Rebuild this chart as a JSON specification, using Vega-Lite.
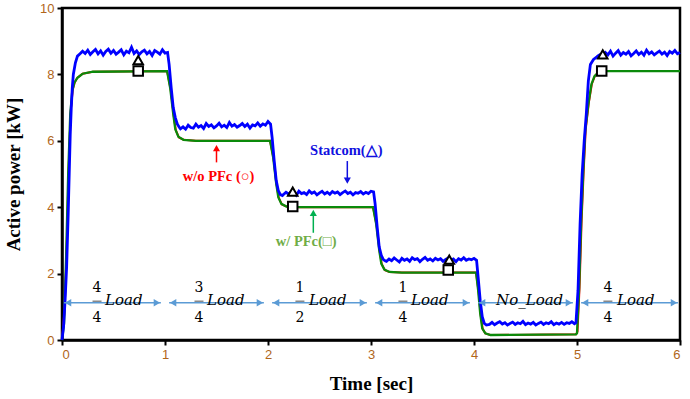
{
  "$schema": "https://vega.github.io/schema/vega-lite/v6.json",
  "width": 618,
  "height": 332,
  "autosize": "none",
  "padding": {"left": 62, "top": 8, "right": 10, "bottom": 59},
  "background": "white",
  "config": {
    "view": {"stroke": "black", "strokeWidth": 2.5},
    "axis": {
      "domainColor": "black", "domainWidth": 2.5, "tickColor": "black", "tickWidth": 2, "tickSize": 5,
      "labelColor": "#b0661a", "labelFont": "Liberation Sans", "labelFontSize": 13, "labelPadding": 3,
      "titleFont": "Liberation Serif", "titleFontSize": 19, "titleFontWeight": "bold", "titleColor": "black",
      "grid": false
    }
  },
  "datasets": {
    "lines": [
      {"s":"g","t":0,"v":0},{"s":"g","t":0.02,"v":0.5},{"s":"g","t":0.04,"v":2.5},{"s":"g","t":0.06,"v":5.0},{"s":"g","t":0.08,"v":6.8},{"s":"g","t":0.1,"v":7.5},{"s":"g","t":0.12,"v":7.75},{"s":"g","t":0.15,"v":7.9},{"s":"g","t":0.2,"v":8.02},{"s":"g","t":0.3,"v":8.08},{"s":"g","t":1.02,"v":8.1},{"s":"g","t":1.05,"v":7.6},{"s":"g","t":1.08,"v":6.8},{"s":"g","t":1.1,"v":6.35},{"s":"g","t":1.13,"v":6.12},{"s":"g","t":1.18,"v":6.03},{"s":"g","t":1.3,"v":6.0},{"s":"g","t":2.02,"v":6.0},{"s":"g","t":2.05,"v":5.5},{"s":"g","t":2.08,"v":4.7},{"s":"g","t":2.1,"v":4.3},{"s":"g","t":2.13,"v":4.1},{"s":"g","t":2.18,"v":4.02},{"s":"g","t":2.3,"v":4.0},{"s":"g","t":3.02,"v":4.0},{"s":"g","t":3.05,"v":3.5},{"s":"g","t":3.08,"v":2.7},{"s":"g","t":3.1,"v":2.3},{"s":"g","t":3.13,"v":2.12},{"s":"g","t":3.18,"v":2.05},{"s":"g","t":3.3,"v":2.03},{"s":"g","t":4.02,"v":2.03},{"s":"g","t":4.04,"v":1.5},{"s":"g","t":4.06,"v":0.8},{"s":"g","t":4.08,"v":0.35},{"s":"g","t":4.11,"v":0.2},{"s":"g","t":4.16,"v":0.15},{"s":"g","t":4.99,"v":0.17},{"s":"g","t":5.0,"v":0.2},{"s":"g","t":5.02,"v":1.5},{"s":"g","t":5.04,"v":3.5},{"s":"g","t":5.06,"v":5.0},{"s":"g","t":5.08,"v":6.3},{"s":"g","t":5.11,"v":7.1},{"s":"g","t":5.14,"v":7.7},{"s":"g","t":5.17,"v":7.95},{"s":"g","t":5.22,"v":8.1},{"s":"g","t":6.0,"v":8.1},
      {"s":"r","t":0,"v":0},{"s":"r","t":0.025,"v":0.9},{"s":"r","t":0.045,"v":2.7},{"s":"r","t":0.065,"v":5.2},{"s":"r","t":0.085,"v":6.9},{"s":"r","t":0.105,"v":7.55},{"s":"r","t":0.125,"v":7.77},{"s":"r","t":0.15,"v":7.9},{"s":"r","t":0.2,"v":8.02},{"s":"r","t":0.3,"v":8.08},{"s":"r","t":1.02,"v":8.1},{"s":"r","t":1.055,"v":7.55},{"s":"r","t":1.085,"v":6.75},{"s":"r","t":1.105,"v":6.32},{"s":"r","t":1.135,"v":6.1},{"s":"r","t":1.18,"v":6.03},{"s":"r","t":1.3,"v":6.0},{"s":"r","t":2.02,"v":6.0},{"s":"r","t":2.055,"v":5.45},{"s":"r","t":2.085,"v":4.65},{"s":"r","t":2.105,"v":4.28},{"s":"r","t":2.135,"v":4.08},{"s":"r","t":2.18,"v":4.02},{"s":"r","t":2.3,"v":4.0},{"s":"r","t":3.02,"v":4.0},{"s":"r","t":3.055,"v":3.45},{"s":"r","t":3.085,"v":2.65},{"s":"r","t":3.105,"v":2.28},{"s":"r","t":3.135,"v":2.1},{"s":"r","t":3.18,"v":2.05},{"s":"r","t":3.3,"v":2.03},{"s":"r","t":4.02,"v":2.03},{"s":"r","t":4.045,"v":1.45},{"s":"r","t":4.065,"v":0.75},{"s":"r","t":4.085,"v":0.33},{"s":"r","t":4.11,"v":0.2},{"s":"r","t":4.16,"v":0.15},{"s":"r","t":4.99,"v":0.17},{"s":"r","t":5.005,"v":0.25},{"s":"r","t":5.025,"v":1.6},{"s":"r","t":5.045,"v":3.6},{"s":"r","t":5.065,"v":5.1},{"s":"r","t":5.085,"v":6.35},{"s":"r","t":5.115,"v":7.15},{"s":"r","t":5.145,"v":7.72},{"s":"r","t":5.175,"v":7.96},{"s":"r","t":5.22,"v":8.1},{"s":"r","t":6.0,"v":8.1},
      {"s":"b","t":0,"v":0},{"s":"b","t":0.015,"v":0.4},{"s":"b","t":0.03,"v":1.2},{"s":"b","t":0.045,"v":2.2},{"s":"b","t":0.06,"v":3.8},{"s":"b","t":0.07,"v":5.0},{"s":"b","t":0.08,"v":6.2},{"s":"b","t":0.09,"v":7.0},{"s":"b","t":0.1,"v":7.6},{"s":"b","t":0.11,"v":8.0},{"s":"b","t":0.13,"v":8.35},{"s":"b","t":0.15,"v":8.55},{"s":"b","t":0.175,"v":8.62},
      {"s":"b","t":0.2,"v":8.70},{"s":"b","t":0.225,"v":8.63},{"s":"b","t":0.25,"v":8.73},{"s":"b","t":0.275,"v":8.60},{"s":"b","t":0.3,"v":8.68},{"s":"b","t":0.325,"v":8.75},{"s":"b","t":0.35,"v":8.62},{"s":"b","t":0.375,"v":8.71},{"s":"b","t":0.4,"v":8.58},{"s":"b","t":0.425,"v":8.69},{"s":"b","t":0.45,"v":8.76},{"s":"b","t":0.475,"v":8.64},{"s":"b","t":0.5,"v":8.72},{"s":"b","t":0.525,"v":8.61},{"s":"b","t":0.55,"v":8.67},{"s":"b","t":0.575,"v":8.74},{"s":"b","t":0.6,"v":8.59},{"s":"b","t":0.625,"v":8.70},{"s":"b","t":0.65,"v":8.65},{"s":"b","t":0.675,"v":8.82},{"s":"b","t":0.7,"v":8.63},{"s":"b","t":0.725,"v":8.71},{"s":"b","t":0.75,"v":8.60},{"s":"b","t":0.775,"v":8.68},{"s":"b","t":0.8,"v":8.73},{"s":"b","t":0.825,"v":8.62},{"s":"b","t":0.85,"v":8.69},{"s":"b","t":0.875,"v":8.57},{"s":"b","t":0.9,"v":8.72},{"s":"b","t":0.925,"v":8.67},{"s":"b","t":0.95,"v":8.61},{"s":"b","t":0.975,"v":8.74},{"s":"b","t":1.0,"v":8.64},{"s":"b","t":1.025,"v":8.66},
      {"s":"b","t":1.04,"v":8.3},{"s":"b","t":1.06,"v":7.6},{"s":"b","t":1.08,"v":7.0},{"s":"b","t":1.1,"v":6.7},{"s":"b","t":1.12,"v":6.5},{"s":"b","t":1.14,"v":6.4},
      {"s":"b","t":1.15,"v":6.36},{"s":"b","t":1.175,"v":6.42},{"s":"b","t":1.2,"v":6.35},{"s":"b","t":1.225,"v":6.47},{"s":"b","t":1.25,"v":6.40},{"s":"b","t":1.275,"v":6.38},{"s":"b","t":1.3,"v":6.50},{"s":"b","t":1.325,"v":6.41},{"s":"b","t":1.35,"v":6.46},{"s":"b","t":1.375,"v":6.37},{"s":"b","t":1.4,"v":6.52},{"s":"b","t":1.425,"v":6.43},{"s":"b","t":1.45,"v":6.48},{"s":"b","t":1.475,"v":6.39},{"s":"b","t":1.5,"v":6.45},{"s":"b","t":1.525,"v":6.53},{"s":"b","t":1.55,"v":6.42},{"s":"b","t":1.575,"v":6.47},{"s":"b","t":1.6,"v":6.40},{"s":"b","t":1.625,"v":6.55},{"s":"b","t":1.65,"v":6.44},{"s":"b","t":1.675,"v":6.49},{"s":"b","t":1.7,"v":6.41},{"s":"b","t":1.725,"v":6.46},{"s":"b","t":1.75,"v":6.52},{"s":"b","t":1.775,"v":6.43},{"s":"b","t":1.8,"v":6.50},{"s":"b","t":1.825,"v":6.38},{"s":"b","t":1.85,"v":6.48},{"s":"b","t":1.875,"v":6.45},{"s":"b","t":1.9,"v":6.54},{"s":"b","t":1.925,"v":6.44},{"s":"b","t":1.95,"v":6.51},{"s":"b","t":1.975,"v":6.47},{"s":"b","t":2.0,"v":6.58},{"s":"b","t":2.025,"v":6.50},
      {"s":"b","t":2.04,"v":6.1},{"s":"b","t":2.06,"v":5.4},{"s":"b","t":2.08,"v":4.8},{"s":"b","t":2.1,"v":4.5},{"s":"b","t":2.12,"v":4.38},{"s":"b","t":2.14,"v":4.35},
      {"s":"b","t":2.15,"v":4.38},{"s":"b","t":2.175,"v":4.45},{"s":"b","t":2.2,"v":4.40},{"s":"b","t":2.225,"v":4.47},{"s":"b","t":2.25,"v":4.43},{"s":"b","t":2.275,"v":4.36},{"s":"b","t":2.3,"v":4.48},{"s":"b","t":2.325,"v":4.41},{"s":"b","t":2.35,"v":4.44},{"s":"b","t":2.375,"v":4.38},{"s":"b","t":2.4,"v":4.49},{"s":"b","t":2.425,"v":4.42},{"s":"b","t":2.45,"v":4.46},{"s":"b","t":2.475,"v":4.37},{"s":"b","t":2.5,"v":4.43},{"s":"b","t":2.525,"v":4.48},{"s":"b","t":2.55,"v":4.40},{"s":"b","t":2.575,"v":4.45},{"s":"b","t":2.6,"v":4.39},{"s":"b","t":2.625,"v":4.47},{"s":"b","t":2.65,"v":4.42},{"s":"b","t":2.675,"v":4.46},{"s":"b","t":2.7,"v":4.38},{"s":"b","t":2.725,"v":4.44},{"s":"b","t":2.75,"v":4.49},{"s":"b","t":2.775,"v":4.41},{"s":"b","t":2.8,"v":4.45},{"s":"b","t":2.825,"v":4.37},{"s":"b","t":2.85,"v":4.44},{"s":"b","t":2.875,"v":4.42},{"s":"b","t":2.9,"v":4.47},{"s":"b","t":2.925,"v":4.40},{"s":"b","t":2.95,"v":4.45},{"s":"b","t":2.975,"v":4.41},{"s":"b","t":3.0,"v":4.48},{"s":"b","t":3.025,"v":4.46},
      {"s":"b","t":3.04,"v":4.1},{"s":"b","t":3.06,"v":3.4},{"s":"b","t":3.08,"v":2.8},{"s":"b","t":3.1,"v":2.55},{"s":"b","t":3.12,"v":2.42},{"s":"b","t":3.14,"v":2.38},
      {"s":"b","t":3.15,"v":2.37},{"s":"b","t":3.175,"v":2.44},{"s":"b","t":3.2,"v":2.39},{"s":"b","t":3.225,"v":2.47},{"s":"b","t":3.25,"v":2.41},{"s":"b","t":3.275,"v":2.35},{"s":"b","t":3.3,"v":2.46},{"s":"b","t":3.325,"v":2.40},{"s":"b","t":3.35,"v":2.44},{"s":"b","t":3.375,"v":2.37},{"s":"b","t":3.4,"v":2.48},{"s":"b","t":3.425,"v":2.42},{"s":"b","t":3.45,"v":2.45},{"s":"b","t":3.475,"v":2.36},{"s":"b","t":3.5,"v":2.43},{"s":"b","t":3.525,"v":2.49},{"s":"b","t":3.55,"v":2.40},{"s":"b","t":3.575,"v":2.44},{"s":"b","t":3.6,"v":2.38},{"s":"b","t":3.625,"v":2.46},{"s":"b","t":3.65,"v":2.41},{"s":"b","t":3.675,"v":2.45},{"s":"b","t":3.7,"v":2.37},{"s":"b","t":3.725,"v":2.43},{"s":"b","t":3.75,"v":2.47},{"s":"b","t":3.775,"v":2.40},{"s":"b","t":3.8,"v":2.44},{"s":"b","t":3.825,"v":2.36},{"s":"b","t":3.85,"v":2.45},{"s":"b","t":3.875,"v":2.41},{"s":"b","t":3.9,"v":2.48},{"s":"b","t":3.925,"v":2.40},{"s":"b","t":3.95,"v":2.44},{"s":"b","t":3.975,"v":2.42},{"s":"b","t":4.0,"v":2.46},{"s":"b","t":4.025,"v":2.40},
      {"s":"b","t":4.04,"v":1.9},{"s":"b","t":4.06,"v":1.2},{"s":"b","t":4.08,"v":0.7},{"s":"b","t":4.1,"v":0.5},{"s":"b","t":4.12,"v":0.45},
      {"s":"b","t":4.15,"v":0.47},{"s":"b","t":4.175,"v":0.53},{"s":"b","t":4.2,"v":0.46},{"s":"b","t":4.225,"v":0.51},{"s":"b","t":4.25,"v":0.55},{"s":"b","t":4.275,"v":0.48},{"s":"b","t":4.3,"v":0.52},{"s":"b","t":4.325,"v":0.45},{"s":"b","t":4.35,"v":0.50},{"s":"b","t":4.375,"v":0.54},{"s":"b","t":4.4,"v":0.47},{"s":"b","t":4.425,"v":0.52},{"s":"b","t":4.45,"v":0.49},{"s":"b","t":4.475,"v":0.56},{"s":"b","t":4.5,"v":0.46},{"s":"b","t":4.525,"v":0.51},{"s":"b","t":4.55,"v":0.48},{"s":"b","t":4.575,"v":0.53},{"s":"b","t":4.6,"v":0.45},{"s":"b","t":4.625,"v":0.50},{"s":"b","t":4.65,"v":0.54},{"s":"b","t":4.675,"v":0.47},{"s":"b","t":4.7,"v":0.52},{"s":"b","t":4.725,"v":0.49},{"s":"b","t":4.75,"v":0.55},{"s":"b","t":4.775,"v":0.46},{"s":"b","t":4.8,"v":0.51},{"s":"b","t":4.825,"v":0.48},{"s":"b","t":4.85,"v":0.53},{"s":"b","t":4.875,"v":0.47},{"s":"b","t":4.9,"v":0.52},{"s":"b","t":4.925,"v":0.50},{"s":"b","t":4.95,"v":0.55},{"s":"b","t":4.975,"v":0.49},{"s":"b","t":4.99,"v":0.52},
      {"s":"b","t":5.01,"v":1.5},{"s":"b","t":5.03,"v":3.5},{"s":"b","t":5.05,"v":5.0},{"s":"b","t":5.07,"v":6.0},{"s":"b","t":5.09,"v":6.8},{"s":"b","t":5.11,"v":7.8},{"s":"b","t":5.13,"v":8.3},{"s":"b","t":5.16,"v":8.45},{"s":"b","t":5.19,"v":8.52},
      {"s":"b","t":5.2,"v":8.55},{"s":"b","t":5.225,"v":8.60},{"s":"b","t":5.25,"v":8.57},{"s":"b","t":5.275,"v":8.66},{"s":"b","t":5.3,"v":8.59},{"s":"b","t":5.325,"v":8.70},{"s":"b","t":5.35,"v":8.55},{"s":"b","t":5.375,"v":8.64},{"s":"b","t":5.4,"v":8.72},{"s":"b","t":5.425,"v":8.58},{"s":"b","t":5.45,"v":8.66},{"s":"b","t":5.475,"v":8.61},{"s":"b","t":5.5,"v":8.69},{"s":"b","t":5.525,"v":8.56},{"s":"b","t":5.55,"v":8.63},{"s":"b","t":5.575,"v":8.71},{"s":"b","t":5.6,"v":8.60},{"s":"b","t":5.625,"v":8.67},{"s":"b","t":5.65,"v":8.58},{"s":"b","t":5.675,"v":8.73},{"s":"b","t":5.7,"v":8.62},{"s":"b","t":5.725,"v":8.68},{"s":"b","t":5.75,"v":8.59},{"s":"b","t":5.775,"v":8.65},{"s":"b","t":5.8,"v":8.70},{"s":"b","t":5.825,"v":8.61},{"s":"b","t":5.85,"v":8.67},{"s":"b","t":5.875,"v":8.57},{"s":"b","t":5.9,"v":8.69},{"s":"b","t":5.925,"v":8.64},{"s":"b","t":5.95,"v":8.72},{"s":"b","t":5.975,"v":8.62},{"s":"b","t":6.0,"v":8.66}
    ],
    "markers": [
      {"t":0.74,"v":8.43,"m":"tri"},{"t":0.74,"v":8.1,"m":"sq"},
      {"t":2.24,"v":4.47,"m":"tri"},{"t":2.24,"v":4.02,"m":"sq"},
      {"t":3.76,"v":2.42,"m":"tri"},{"t":3.75,"v":2.11,"m":"sq"},
      {"t":5.25,"v":8.6,"m":"tri"},{"t":5.24,"v":8.1,"m":"sq"}
    ],
    "loads": [
      {"a":0.02,"b":0.96},{"a":1.04,"b":1.96},{"a":2.04,"b":2.96},{"a":3.04,"b":3.96},{"a":4.04,"b":4.96},{"a":5.04,"b":5.98}
    ],
    "fracs": [
      {"ft":0.34,"num":"4","den":"4","lt":0.60,"lab":"Load"},
      {"ft":1.33,"num":"3","den":"4","lt":1.59,"lab":"Load"},
      {"ft":2.31,"num":"1","den":"2","lt":2.58,"lab":"Load"},
      {"ft":3.31,"num":"1","den":"4","lt":3.57,"lab":"Load"},
      {"ft":5.30,"num":"4","den":"4","lt":5.57,"lab":"Load"}
    ],
    "pointers": [
      {"t":1.5,"tail":5.35,"head":5.78,"dir":"up","c":"wo"},
      {"t":2.77,"tail":5.39,"head":4.8,"dir":"down","c":"st"},
      {"t":2.44,"tail":3.23,"head":3.83,"dir":"up","c":"w"}
    ],
    "notes": [
      {"t":1.52,"v":4.9,"txt":"w/o PFc (○)","c":"wo"},
      {"t":2.76,"v":5.68,"txt":"Statcom(△)","c":"st"},
      {"t":2.37,"v":2.96,"txt":"w/ PFc(□)","c":"w"}
    ]
  },
  "encoding": {
    "x": {"type": "quantitative", "scale": {"domain": [0, 6], "nice": false}},
    "y": {"type": "quantitative", "scale": {"domain": [0, 10], "nice": false}}
  },
  "layer": [
    {
      "data": {"name": "lines"},
      "transform": [{"filter": "datum.s === 'r'"}],
      "mark": {"type": "line", "color": "#ff0000", "strokeWidth": 2},
      "encoding": {
        "x": {"field": "t", "type": "quantitative", "axis": {"values": [0,1,2,3,4,5,6], "format": "d", "title": "Time [sec]", "titlePadding": 13}},
        "y": {"field": "v", "type": "quantitative", "axis": {"values": [0,1,2,3,4,5,6,7,8,9,10], "labelExpr": "datum.value % 2 === 0 ? datum.label : ''", "title": "Active power [kW]", "titlePadding": 16}}
      }
    },
    {
      "data": {"name": "lines"},
      "transform": [{"filter": "datum.s === 'g'"}],
      "mark": {"type": "line", "color": "#0a8a0a", "strokeWidth": 2.3},
      "encoding": {"x": {"field": "t"}, "y": {"field": "v"}}
    },
    {
      "data": {"name": "lines"},
      "transform": [{"filter": "datum.s === 'b'"}],
      "mark": {"type": "line", "color": "#0000ff", "strokeWidth": 2.8},
      "encoding": {"x": {"field": "t"}, "y": {"field": "v"}}
    },
    {
      "data": {"name": "markers"},
      "mark": {"type": "point", "filled": true, "fill": "white", "stroke": "black", "strokeWidth": 2, "opacity": 1, "size": 90},
      "encoding": {
        "x": {"field": "t"}, "y": {"field": "v"},
        "shape": {"field": "m", "type": "nominal", "scale": {"domain": ["tri", "sq"], "range": ["triangle-up", "square"]}, "legend": null}
      }
    },
    {
      "data": {"name": "loads"},
      "mark": {"type": "rule", "color": "#5b9bd5", "strokeWidth": 1.5},
      "encoding": {"x": {"field": "a"}, "x2": {"field": "b"}, "y": {"datum": 1.12}}
    },
    {
      "data": {"name": "loads"},
      "mark": {"type": "point", "shape": "triangle-left", "filled": true, "color": "#5b9bd5", "opacity": 1, "size": 55, "xOffset": 4},
      "encoding": {"x": {"field": "a"}, "y": {"datum": 1.12}}
    },
    {
      "data": {"name": "loads"},
      "mark": {"type": "point", "shape": "triangle-right", "filled": true, "color": "#5b9bd5", "opacity": 1, "size": 55, "xOffset": -4},
      "encoding": {"x": {"field": "b"}, "y": {"datum": 1.12}}
    },
    {
      "data": {"name": "fracs"},
      "mark": {"type": "text", "font": "DejaVu Serif", "fontSize": 14, "color": "black", "baseline": "middle"},
      "encoding": {"x": {"field": "ft"}, "y": {"datum": 1.57}, "text": {"field": "num"}}
    },
    {
      "data": {"name": "fracs"},
      "mark": {"type": "text", "font": "DejaVu Serif", "fontSize": 14, "color": "black", "baseline": "middle"},
      "encoding": {"x": {"field": "ft"}, "y": {"datum": 0.66}, "text": {"field": "den"}}
    },
    {
      "data": {"name": "fracs"},
      "mark": {"type": "tick", "orient": "horizontal", "color": "black", "size": 9, "thickness": 1},
      "encoding": {"x": {"field": "ft"}, "y": {"datum": 1.17}}
    },
    {
      "data": {"name": "fracs"},
      "mark": {"type": "text", "font": "DejaVu Serif", "fontStyle": "italic", "fontSize": 15, "color": "black", "baseline": "middle"},
      "encoding": {"x": {"field": "lt"}, "y": {"datum": 1.2}, "text": {"field": "lab"}}
    },
    {
      "data": {"values": [{"t": 4.54, "lab": "No_Load"}]},
      "mark": {"type": "text", "font": "DejaVu Serif", "fontStyle": "italic", "fontSize": 15, "color": "black", "baseline": "middle"},
      "encoding": {"x": {"field": "t"}, "y": {"datum": 1.2}, "text": {"field": "lab"}}
    },
    {
      "data": {"name": "pointers"},
      "mark": {"type": "rule", "strokeWidth": 1.5},
      "encoding": {
        "x": {"field": "t"}, "y": {"field": "tail"}, "y2": {"field": "head"},
        "color": {"field": "c", "type": "nominal", "scale": {"domain": ["wo", "st", "w"], "range": ["#ff0000", "#1010e0", "#00b050"]}, "legend": null}
      }
    },
    {
      "data": {"name": "pointers"},
      "mark": {"type": "point", "filled": true, "opacity": 1, "size": 50},
      "encoding": {
        "x": {"field": "t"}, "y": {"field": "head"},
        "shape": {"field": "dir", "type": "nominal", "scale": {"domain": ["up", "down"], "range": ["triangle-up", "triangle-down"]}, "legend": null},
        "color": {"field": "c", "type": "nominal", "scale": {"domain": ["wo", "st", "w"], "range": ["#ff0000", "#1010e0", "#00b050"]}, "legend": null}
      }
    },
    {
      "data": {"name": "notes"},
      "mark": {"type": "text", "font": "Liberation Serif", "fontWeight": "bold", "fontSize": 14.5, "baseline": "middle"},
      "encoding": {
        "x": {"field": "t"}, "y": {"field": "v"}, "text": {"field": "txt"},
        "color": {"field": "c", "type": "nominal", "scale": {"domain": ["wo", "st", "w"], "range": ["#ff0000", "#1010e0", "#70ad47"]}, "legend": null}
      }
    }
  ],
  "resolve": {"scale": {"color": "independent", "shape": "independent"}}
}
